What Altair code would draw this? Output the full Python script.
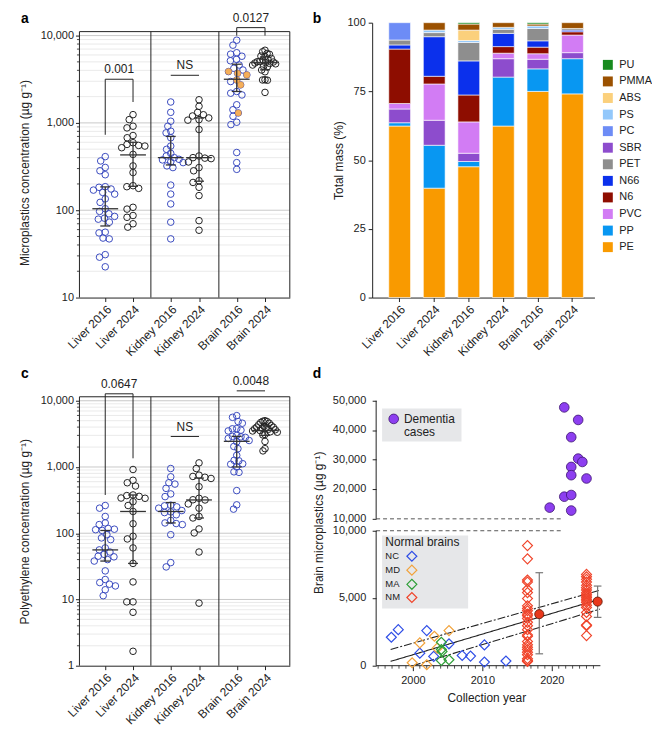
import math
import altair as alt
import pandas as pd

FONT = "Liberation Sans"
INK = "#222222"
BLUE16 = "#3b4cc0"

CATS = ["Liver 2016", "Liver 2024", "Kidney 2016", "Kidney 2024", "Brain 2016", "Brain 2024"]

# ---------------- panel a : microplastics concentration (ug/g) ----------------
a_liver16 = [411, 367, 309, 283, 255, 186, 183, 175, 170, 160, 153, 135, 123, 104, 97, 91, 85, 81, 79, 73,
             56, 55, 48, 47, 31, 29, 22.5]
a_liver24 = [1243, 1091, 917, 877, 717, 676, 593, 567, 552, 543, 520, 436, 322, 270, 191, 186, 178, 108, 103,
             87, 83, 70, 64]
a_kidney16 = [1735, 1322, 1045, 916, 804, 769, 676, 543, 498, 448, 418, 400, 383, 377, 357, 351, 322, 308, 194,
              153, 118, 73, 47]
a_kidney24 = [1840, 1550, 1320, 1240, 1200, 1140, 1090, 1075, 840, 418, 400, 395, 390, 357, 308, 283, 218, 208,
              183, 147, 76, 59]
a_brain16 = [8850, 7765, 6360, 6130, 5800, 5340, 5150, 4600, 4220, 4035, 3870, 3700, 3545, 3100, 2977, 2725,
             2290, 2190, 2090, 1613, 1415, 1300, 1190, 1018, 956, 458, 351, 294]
a_brain16_orange = [3870, 3700, 3545, 3100, 2725, 1300]
a_brain24 = [6790, 6530, 6240, 6100, 5820, 5750, 5480, 5350, 5245, 5050, 5020, 4980, 4900, 4850, 4800, 4750,
             4600, 4450, 4400, 4035, 3850, 3120, 3100, 3080, 2235]
a_median = [104, 430, 400, 400, 3162, 4890]
a_low = [66, 188, 330, 215, 2290, 4050]
a_high = [185, 600, 700, 1140, 4700, 5700]
a_sig_label = ["0.001", "NS", "0.0127"]
a_sig_from = [0, 2, 4]
a_sig_to = [1, 3, 5]
a_sig_top = [3162, 3510, 12330]
a_sig_from_end = [731, 3510, 10000]
a_sig_to_end = [1735, 3510, 10000]

# ---------------- panel c : polyethylene concentration (ug/g) ----------------
c_liver16 = [262, 239, 179, 143, 135, 118, 115, 113, 110, 95, 85, 80, 60, 56, 52, 48, 45, 44, 40, 38, 27, 20,
             18, 17, 16, 14, 11.4]
c_liver24 = [916, 630, 578, 516, 378, 370, 360, 340, 337, 300, 262, 213, 139, 90, 82, 60, 35, 18.4, 9.2, 9.2,
             6.4, 1.65]
c_kidney16 = [948, 711, 578, 552, 476, 392, 357, 265, 259, 250, 239, 220, 210, 205, 190, 156, 143, 140, 135, 95,
              36, 31]
c_kidney24 = [1153, 948, 753, 720, 700, 671, 504, 337, 320, 318, 277, 239, 179, 170, 116, 101, 52, 8.8]
c_brain16 = [5960, 5620, 4850, 4580, 3800, 3770, 3600, 3500, 2990, 2900, 2850, 2800, 2700, 2510, 2400, 2040,
             1890, 1500, 1260, 1240, 1120, 1100, 1000, 845, 830, 440, 268, 231]
c_brain24 = [5000, 4850, 4700, 4900, 4580, 4350, 4230, 4100, 4000, 3980, 3900, 3850, 3770, 3700, 3650, 3550,
             3500, 3400, 3350, 3100, 3050, 2430, 1890, 1750]
c_median = [56, 213, 213, 318, 2440, 3550]
c_low = [38, 35, 143, 170, 1000, 3000]
c_high = [110, 378, 290, 680, 2900, 4200]
c_sig_label = ["0.0647", "NS", "0.0048"]
c_sig_from = [0, 2, 4]
c_sig_to = [1, 3, 5]
c_sig_top = [12730, 2890, 14110]
c_sig_from_end = [378, 2890, 14110]
c_sig_to_end = [1352, 2890, 14110]

# ---------------- panel b : polymer composition (% of total mass) ----------------
b_PE = [62.4, 39.8, 47.6, 62.4, 75.0, 74.1]
b_PP = [1.2, 15.6, 1.9, 17.8, 8.2, 12.8]
b_SBR = [5.0, 9.1, 3.0, 6.7, 3.5, 2.2]
b_PVC = [2.0, 13.2, 11.4, 2.0, 2.0, 6.4]
b_N6 = [19.8, 2.8, 9.8, 2.4, 2.4, 1.2]
b_N66 = [1.5, 14.4, 12.4, 4.8, 2.3, 0.6]
b_PET = [1.8, 1.5, 6.7, 1.5, 4.5, 0.6]
b_PC = [6.3, 0, 0, 0, 0, 0]
b_PS = [0, 0.9, 0.7, 0.7, 0.9, 0]
b_ABS = [0, 0, 3.8, 0, 0, 0]
b_PMMA = [0, 2.7, 2.2, 1.7, 0.7, 2.1]
b_PU = [0, 0, 0.5, 0, 0.5, 0]
b_stack_order = ["PE", "PP", "SBR", "PVC", "N6", "N66", "PET", "PC", "PS", "ABS", "PMMA", "PU"]
b_legend_order = ["PU", "PMMA", "ABS", "PS", "PC", "SBR", "PET", "N66", "N6", "PVC", "PP", "PE"]
b_colors = ["#178a1e", "#9b5100", "#fbd07c", "#93c8fb", "#6d8cf6", "#8d4ccd", "#8e8e8e", "#0b30ec",
            "#8e0d00", "#d27cf4", "#0897f2", "#f99a00"]

# ---------------- panel d : brain microplastics vs collection year ----------------
dem_year = [2021.8, 2023.8, 2022.8, 2023.8, 2024.4, 2022.8, 2022.8, 2025.0, 2021.8, 2022.8, 2019.7, 2022.8]
dem_value = [47750, 43500, 37660, 30400, 29270, 27580, 24790, 23670, 17500, 18070, 13800, 12800]
nc_year = [1996.9, 1997.9, 2002.0, 2001.0, 2003.0, 2005.2, 2007.1, 2008.3, 2010.3, 2010.3, 2013.4]
nc_value = [2110, 2670, 2600, 930, 690, 1620, 760, 710, 1540, 270, 350]
md_year = [2001.0, 1999.9, 2002.0, 2003.1, 2005.2, 2003.5]
md_value = [1690, 220, 70, 2180, 2600, 1300]
ma_year = [2004.1, 2004.1, 2004.2, 2004.1, 2005.2]
ma_value = [1740, 1200, 1050, 390, 440]
nm16_year = 2016.5
nm16_value = [8897, 7917, 6348, 6201, 5662, 5417, 4975, 4436, 4240, 4069, 3824, 3701, 3505, 3211, 2966, 2672,
              2280, 2181, 1789, 1544, 1373, 1201, 1005, 809, 515, 392, 319]
nm24_year = 2025.0
nm24_value = [6765, 6593, 6397, 6201, 5956, 5784, 5613, 5417, 5294, 5172, 5049, 4926, 4804, 4681, 4485, 4314,
              3946, 3652, 3015, 2966, 2230]
nm_mean_year = [2018.2, 2026.6]
nm_mean = [3820, 4750]
nm_low = [880, 3580]
nm_high = [6890, 5900]
fit_line = ["hi", "hi", "mid", "mid", "lo", "lo"]
fit_year = [1996.8, 2026.9, 1996.8, 2026.9, 2000.0, 2026.9]
fit_value = [1200, 5590, 320, 4926, 0, 4190]
nb_groups = ["NC", "MD", "MA", "NM"]
nb_colors = ["#2f4ee6", "#f2a23a", "#2e9e37", "#f0442a"]
d_bottom_ticks = [0, 5000, 10000]
d_top_ticks = [10000, 20000, 30000, 40000, 50000]

# ---------------- layout constants ----------------
W_AC = 212
CAT_X = [26, 54, 92, 120.5, 158.5, 187]
SEP_X = [72, 140.5]
SWARM_D = 6.3
SWARM_MAX = 12.5
DUMMY = pd.DataFrame({"k": [0]})


def beeswarm(ys, d, max_w):
    order = sorted(range(len(ys)), key=lambda i: ys[i])
    placed = []
    xs = [0.0] * len(ys)
    for i in order:
        y = ys[i]
        cands = [0.0]
        for (px, py) in placed:
            dy = abs(y - py)
            if dy < d:
                dx = math.sqrt(d * d - dy * dy)
                cands.extend([px + dx, px - dx])
        cands.sort(key=lambda c: (abs(c), c))
        for c in cands:
            if all((c - px) ** 2 + (y - py) ** 2 >= d * d - 1e-6 for (px, py) in placed):
                xs[i] = c
                break
        placed.append((xs[i], y))
    widest = max(abs(x) for x in xs) or 1.0
    if widest > max_w:
        xs = [x * max_w / widest for x in xs]
    return xs


def letter_layer(letter, x, y, baseline):
    return alt.Chart(DUMMY).mark_text(text=letter, fontSize=14, fontWeight="bold", align="left",
                                      baseline=baseline, font=FONT, color="#000").encode(
        x=alt.value(x), y=alt.value(y))


def make_swarm(groups, med, low, high, sig_label, sig_from, sig_to, sig_top, sig_from_end, sig_to_end,
               ydom, frame_top, height, yvals, ytitle, ytitle_y, letter, letter_y, letter_baseline,
               decades, majors, orange=(), anchor=False):
    W = W_AC
    ppd = height / (math.log10(ydom[1]) - math.log10(ydom[0]))
    rows = []
    for ci, vals in enumerate(groups):
        offs = beeswarm([-math.log10(v) * ppd for v in vals], SWARM_D, SWARM_MAX)
        for v, dx in zip(vals, offs):
            rows.append({"cat": CATS[ci], "year": CATS[ci][-4:], "v": v, "x": CAT_X[ci] + dx,
                         "orange": bool(ci == 4 and v in orange)})
    pts = pd.DataFrame(rows)
    minor = [k * d for d in decades for k in range(2, 10)]

    xscale = alt.Scale(domain=[0, W], nice=False, zero=False)
    yscale = alt.Scale(type="log", domain=ydom, nice=False)
    label_expr = ("[" + ",".join("'%s'" % c for c in CATS) + "][indexof([" +
                  ",".join(str(x) for x in CAT_X) + "], datum.value)]")
    xaxis = alt.Axis(values=CAT_X, labelExpr=label_expr, labelAngle=-45, labelFontSize=12,
                     tickSize=4, labelPadding=2, title=None, grid=False, labelOverlap=False)
    yk = dict(values=yvals, format=",", tickSize=4, labelPadding=2, labelFontSize=11,
              title=ytitle, titleFontSize=12, titlePadding=9, domain=False, grid=False, labelOverlap=False)
    if ytitle_y is not None:
        yk["titleY"] = ytitle_y
    yaxis = alt.Axis(**yk)

    def X(f):
        return alt.X(f, type="quantitative", scale=xscale, axis=xaxis)

    def Y(f):
        return alt.Y(f, type="quantitative", scale=yscale, axis=yaxis)

    segs = [(0, 0, ydom[0], frame_top), (W, W, ydom[0], frame_top), (0, W, frame_top, frame_top)]
    segs += [(s, s, ydom[0], frame_top) for s in SEP_X]
    txt = []
    for lab, f, t, top, fe, te in zip(sig_label, sig_from, sig_to, sig_top, sig_from_end, sig_to_end):
        xl, xr = CAT_X[f], CAT_X[t]
        segs.append((xl, xr, top, top))
        if fe != top:
            segs.append((xl, xl, fe, top))
        if te != top:
            segs.append((xr, xr, te, top))
        txt.append({"x": (xl + xr) / 2, "y": top, "t": lab})
    seg_df = pd.DataFrame(segs, columns=["x1", "x2", "y1", "y2"])
    txt_df = pd.DataFrame(txt)
    sum_df = pd.DataFrame({"x": CAT_X, "med": med, "lo": low, "hi": high})

    layers = [
        alt.Chart(pd.DataFrame({"g": minor})).mark_rule(color="#e4e4e4", strokeWidth=0.8).encode(
            y=Y("g"), x=alt.value(0), x2=alt.value(W)),
        alt.Chart(pd.DataFrame({"g": majors})).mark_rule(color="#c2c2c2", strokeWidth=0.9).encode(
            y=Y("g"), x=alt.value(0), x2=alt.value(W)),
        alt.Chart(pd.DataFrame({"g": minor})).mark_rule(color=INK, strokeWidth=0.8).encode(
            y=Y("g"), x=alt.value(-2.5), x2=alt.value(0)),
        alt.Chart(seg_df).mark_rule(color=INK, strokeWidth=1).encode(
            x=X("x1"), x2=alt.X2("x2"), y=Y("y1"), y2=alt.Y2("y2")),
        alt.Chart(pts).mark_point(shape="circle", filled=False, size=44, strokeWidth=1, opacity=1).encode(
            x=X("x"), y=Y("v"),
            color=alt.Color("year:N", scale=alt.Scale(domain=["2016", "2024"], range=[BLUE16, INK]),
                            legend=None)),
        alt.Chart(pts).transform_filter("datum.orange").mark_point(
            shape="circle", filled=True, size=44, color="#f3a13c", opacity=0.85).encode(
            x=X("x"), y=Y("v")),
    ]
    base = alt.Chart(sum_df).transform_calculate(
        ml="datum.x - 13", mr="datum.x + 13", cl="datum.x - 5", cr="datum.x + 5")
    rule_kw = dict(color="#333333", strokeWidth=1.3)
    layers += [
        base.mark_rule(**rule_kw).encode(x=X("ml"), x2=alt.X2("mr"), y=Y("med")),
        base.mark_rule(**rule_kw).encode(x=X("x"), y=Y("lo"), y2=alt.Y2("hi")),
        base.mark_rule(**rule_kw).encode(x=X("cl"), x2=alt.X2("cr"), y=Y("lo")),
        base.mark_rule(**rule_kw).encode(x=X("cl"), x2=alt.X2("cr"), y=Y("hi")),
        alt.Chart(txt_df).mark_text(baseline="bottom", dy=-3, fontSize=12, color=INK, font=FONT).encode(
            x=X("x"), y=Y("y"), text=alt.Text("t:N")),
        letter_layer(letter, -59, letter_y, letter_baseline),
    ]
    if anchor:
        layers.append(alt.Chart(DUMMY).mark_rule(strokeOpacity=0, color="white").encode(
            x=alt.value(-72), x2=alt.value(-71), y=alt.value(-11)))
    return alt.layer(*layers).properties(width=W, height=height)


panel_a = make_swarm([a_liver16, a_liver24, a_kidney16, a_kidney24, a_brain16, a_brain24],
                     a_median, a_low, a_high, a_sig_label, a_sig_from, a_sig_to, a_sig_top,
                     a_sig_from_end, a_sig_to_end,
                     ydom=[10, 14050], frame_top=11100, height=277, yvals=[10, 100, 1000, 10000],
                     ytitle="Microplastics concentration (µg g⁻¹)", ytitle_y=151,
                     letter="a", letter_y=-11, letter_baseline="top",
                     decades=[10, 100, 1000], majors=[100, 1000, 10000],
                     orange=a_brain16_orange, anchor=True)

panel_c = make_swarm([c_liver16, c_liver24, c_kidney16, c_kidney24, c_brain16, c_brain24],
                     c_median, c_low, c_high, c_sig_label, c_sig_from, c_sig_to, c_sig_top,
                     c_sig_from_end, c_sig_to_end,
                     ydom=[1, 11480], frame_top=11480, height=271, yvals=[1, 10, 100, 1000, 10000],
                     ytitle="Polyethylene concentration (µg g⁻¹)", ytitle_y=None,
                     letter="c", letter_y=-19, letter_baseline="alphabetic",
                     decades=[1, 10, 100, 1000], majors=[10, 100, 1000, 10000])

# ---------------- panel b ----------------
b_series = {"PE": b_PE, "PP": b_PP, "SBR": b_SBR, "PVC": b_PVC, "N6": b_N6, "N66": b_N66, "PET": b_PET,
            "PC": b_PC, "PS": b_PS, "ABS": b_ABS, "PMMA": b_PMMA, "PU": b_PU}
b_rows = []
for si, poly in enumerate(b_stack_order):
    for cat, val in zip(CATS, b_series[poly]):
        if val > 0:
            b_rows.append({"sample": cat, "polymer": poly, "value": val, "stack": si})
b_df = pd.DataFrame(b_rows)

b_bars = alt.Chart(b_df).mark_bar(stroke="white", strokeWidth=0.6).encode(
    x=alt.X("sample:N", sort=CATS,
            scale=alt.Scale(paddingInner=0.37, paddingOuter=0.4, align=0.6),
            axis=alt.Axis(title=None, labelAngle=-45, labelFontSize=12, tickSize=4, labelPadding=2,
                          labelOverlap=False)),
    y=alt.Y("value:Q", stack="zero", scale=alt.Scale(domain=[0, 100], nice=False),
            axis=alt.Axis(values=[0, 25, 50, 75, 100], title="Total mass (%)", tickSize=4, labelPadding=3,
                          titlePadding=2, labelFontSize=11, titleFontSize=12, grid=False)),
    color=alt.Color("polymer:N", scale=alt.Scale(domain=b_legend_order, range=b_colors),
                    legend=alt.Legend(title=None, orient="none", legendX=232, legendY=37,
                                      symbolType="square", symbolSize=100, symbolStrokeWidth=0,
                                      labelFontSize=11, labelFont=FONT, labelColor=INK,
                                      rowPadding=4.7, labelOffset=6)),
    order=alt.Order("stack:Q", sort="ascending"),
)
panel_b = alt.layer(b_bars, letter_layer("b", -60, -11, "top")).properties(width=224, height=277)

# ---------------- panel d ----------------
BREAK = 10000
TOP_START_U = 10882
TOP_K = 0.21875
U_MAX = 19926
D_W, D_H = 230, 271


def to_u(v):
    return v if v <= BREAK else TOP_START_U + (v - BREAK) * TOP_K


tick_rows = [{"u": float(v), "t": format(v, ",")} for v in d_bottom_ticks]
tick_rows += [{"u": TOP_START_U + (v - BREAK) * TOP_K, "t": format(v, ",")} for v in d_top_ticks]
tick_df = pd.DataFrame(tick_rows)
u_expr = "datum.v <= %d ? datum.v : %f + (datum.v - %d) * %f" % (BREAK, TOP_START_U, BREAK, TOP_K)

xd_scale = alt.Scale(domain=[1994.14, 2027], nice=False, zero=False)
xd_axis = alt.Axis(values=[2000, 2010, 2020], format="d", tickSize=5, labelFontSize=11, labelPadding=4,
                   title="Collection year", titleFontSize=12, titlePadding=7, domain=False, grid=False)
yd_scale = alt.Scale(domain=[0, U_MAX], nice=False, zero=False)
yd_axis = alt.Axis(values=list(tick_df["u"]), labels=False, tickSize=4, offset=-4, domain=False,
                   grid=False, title=None)


def XD(f):
    return alt.X(f, type="quantitative", scale=xd_scale, axis=xd_axis)


def YD(f):
    return alt.Y(f, type="quantitative", scale=yd_scale, axis=yd_axis)


dem_df = pd.DataFrame({"year": dem_year, "v": dem_value})
nb_rows = []
for grp, yrs, vals in [("NC", nc_year, nc_value), ("MD", md_year, md_value), ("MA", ma_year, ma_value),
                       ("NM", [nm16_year] * len(nm16_value), nm16_value),
                       ("NM", [nm24_year] * len(nm24_value), nm24_value)]:
    for yr, v in zip(yrs, vals):
        nb_rows.append({"grp": grp, "year": yr, "v": v})
nb_df = pd.DataFrame(nb_rows)
sum_d = pd.DataFrame({"year": nm_mean_year, "mean": nm_mean, "lo": nm_low, "hi": nm_high})
fit_df = pd.DataFrame({"line": fit_line, "year": fit_year, "v": fit_value})
dash_df = pd.DataFrame({"u": [to_u(10000), TOP_START_U], "xs": [1994.71, 1994.71], "xe": [2021.7, 2021.7]})
ydom_df = pd.DataFrame({"u1": [0, TOP_START_U], "u2": [BREAK, to_u(50000)]})
xdom_df = pd.DataFrame({"xs": [1994.71], "xe": [2027]})
minor_years = pd.DataFrame({"yr": [y for y in range(1995, 2027) if y % 10 != 0]})

legend_y = [160.7, 174.7, 189, 202.3]

d_layers = [
    alt.Chart(dash_df).mark_rule(strokeDash=[4, 3], color="#555555", strokeWidth=1).encode(
        x=XD("xs"), x2=alt.X2("xe"), y=YD("u")),
    alt.Chart(ydom_df).mark_rule(color=INK, strokeWidth=1).encode(
        x=alt.value(4), y=YD("u1"), y2=alt.Y2("u2")),
    alt.Chart(tick_df).mark_text(align="right", baseline="middle", fontSize=11, font=FONT, color=INK).encode(
        x=alt.value(-6), y=YD("u"), text=alt.Text("t:N")),
    alt.Chart(DUMMY).mark_text(text="Brain microplastics (µg g⁻¹)", angle=270, fontSize=12, align="center",
                               baseline="middle", font=FONT, color=INK).encode(
        x=alt.value(-54), y=alt.value(127)),
    alt.Chart(xdom_df).mark_rule(color=INK, strokeWidth=1).encode(
        x=XD("xs"), x2=alt.X2("xe"), y=alt.value(D_H)),
    alt.Chart(minor_years).mark_rule(color=INK, strokeWidth=0.8).encode(
        x=XD("yr"), y=alt.value(D_H), y2=alt.value(D_H + 3)),
    alt.Chart(DUMMY).mark_rect(color="#e6e7e9").encode(
        x=alt.value(10), x2=alt.value(90), y=alt.value(11.7), y2=alt.value(45)),
    alt.Chart(DUMMY).mark_rect(color="#e6e7e9").encode(
        x=alt.value(10), x2=alt.value(96.7), y=alt.value(139.7), y2=alt.value(213.3)),
    alt.Chart(fit_df).mark_line(color=INK, strokeWidth=1.1).encode(
        x=XD("year"), y=YD("v"), detail="line:N",
        strokeDash=alt.StrokeDash("line:N", scale=alt.Scale(domain=["hi", "mid", "lo"],
                                                            range=[[8, 2, 2, 2], [1, 0], [8, 2, 2, 2]]),
                                  legend=None)),
    alt.Chart(nb_df).mark_point(shape="diamond", filled=False, size=100, strokeWidth=1.2, opacity=1).encode(
        x=XD("year"), y=YD("v"),
        color=alt.Color("grp:N", scale=alt.Scale(domain=nb_groups, range=nb_colors), legend=None)),
    alt.Chart(dem_df).transform_calculate(u=u_expr).mark_circle(
        size=95, color="#8d3ff0", stroke="#3c1470", strokeWidth=0.8, opacity=1).encode(
        x=XD("year"), y=YD("u")),
]
sum_base = alt.Chart(sum_d).transform_calculate(cl="datum.year - 0.55", cr="datum.year + 0.55")
err_kw = dict(color="#777777", strokeWidth=1.2)
d_layers += [
    sum_base.mark_rule(**err_kw).encode(x=XD("year"), y=YD("lo"), y2=alt.Y2("hi")),
    sum_base.mark_rule(**err_kw).encode(x=XD("cl"), x2=alt.X2("cr"), y=YD("lo")),
    sum_base.mark_rule(**err_kw).encode(x=XD("cl"), x2=alt.X2("cr"), y=YD("hi")),
    sum_base.mark_circle(size=85, color="#e8381c", stroke="#5a1200", strokeWidth=0.8, opacity=1).encode(
        x=XD("year"), y=YD("mean")),
    alt.Chart(DUMMY).mark_circle(size=95, color="#8d3ff0", stroke="#3c1470", strokeWidth=0.8,
                                 opacity=1).encode(x=alt.value(21.7), y=alt.value(22.3)),
    alt.Chart(DUMMY).mark_text(text="Dementia", fontSize=12, align="left", baseline="middle",
                               font=FONT, color=INK).encode(x=alt.value(32), y=alt.value(22.3)),
    alt.Chart(DUMMY).mark_text(text="cases", fontSize=12, align="left", baseline="middle",
                               font=FONT, color=INK).encode(x=alt.value(32), y=alt.value(35.7)),
    alt.Chart(DUMMY).mark_text(text="Normal brains", fontSize=12, align="left", baseline="middle",
                               font=FONT, color=INK).encode(x=alt.value(13.3), y=alt.value(146.7)),
]
for grp, col, ly in zip(nb_groups, nb_colors, legend_y):
    d_layers.append(alt.Chart(DUMMY).mark_text(text=grp, fontSize=9.5, align="left", baseline="middle",
                                               font=FONT, color=INK).encode(x=alt.value(13.3), y=alt.value(ly)))
    d_layers.append(alt.Chart(DUMMY).mark_point(shape="diamond", filled=False, size=100, strokeWidth=1.2,
                                                color=col, opacity=1).encode(x=alt.value(40), y=alt.value(ly)))
d_layers.append(letter_layer("d", -60, -19, "alphabetic"))
panel_d = alt.layer(*d_layers).properties(width=D_W, height=D_H)

chart = alt.concat(panel_a, panel_b, panel_c, panel_d, columns=2,
                   spacing={"row": 100, "column": 83}, bounds="flush").resolve_scale(
    color="independent", strokeDash="independent").resolve_legend(color="independent").properties(
    padding={"left": 0, "top": 0, "right": 0, "bottom": 0}
).configure_view(stroke=None).configure_axis(
    labelFont=FONT, titleFont=FONT, labelColor=INK, titleColor=INK, domainColor=INK, tickColor=INK,
    titleFontWeight="normal", grid=False
).configure_text(font=FONT).configure_legend(labelFont=FONT)

chart.save("out.html", embed_options={"renderer": "svg", "actions": False})
